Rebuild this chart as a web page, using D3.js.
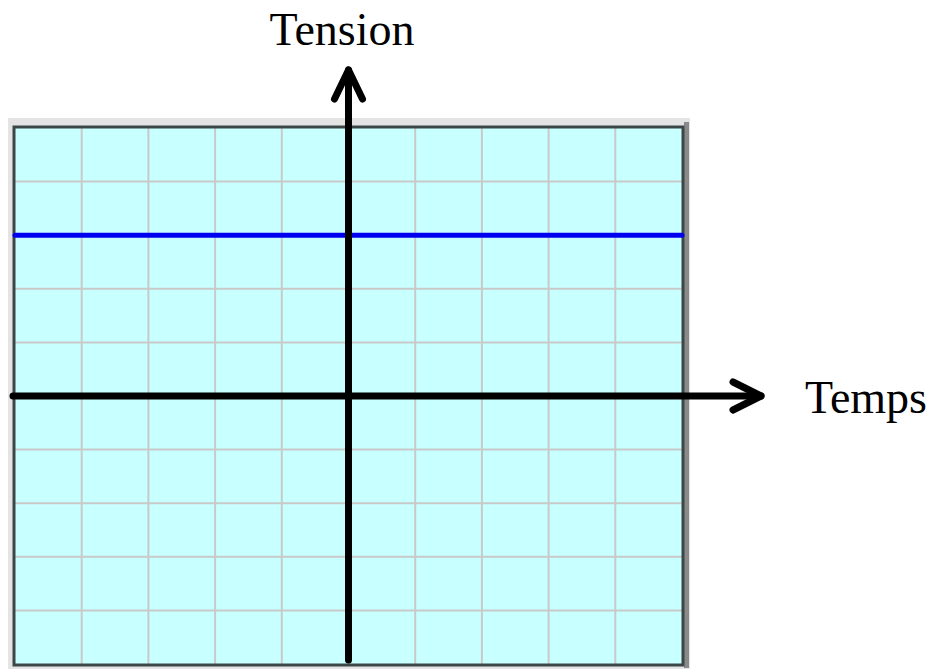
<!DOCTYPE html>
<html>
<head>
<meta charset="utf-8">
<script src="https://cdn.jsdelivr.net/npm/d3@7"></script>
<style>
  html, body { margin: 0; padding: 0; background: #ffffff; }
  svg { display: block; }
</style>
</head>
<body>
<svg width="940" height="669"></svg>
<script>
(function () {
    // Oscilloscope screen: 10 x 10 divisions, centred on 0
    const xDivisions = [-5, -4, -3, -2, -1, 0, 1, 2, 3, 4, 5];
    const yDivisions = [-5, -4, -3, -2, -1, 0, 1, 2, 3, 4, 5];
    // DC signal, in divisions
    const signalTime = [-5, 5];
    const signalVolts = [3, 3];
    const axisLabels = ["Temps", "Tension"];

    const svg = d3.select("svg");

    const screen = { left: 15, right: 682, top: 128, bottom: 664 };

    const x = d3.scaleLinear().domain([-5, 5]).range([screen.left, screen.right]);
    const y = d3.scaleLinear().domain([-5, 5]).range([screen.bottom, screen.top]);

    // Bezel
    svg.append("rect")
        .attr("x", 8).attr("y", 118)
        .attr("width", 682).attr("height", 551)
        .attr("fill", "#e4e4e4");
    svg.append("rect")
        .attr("x", 684).attr("y", 122)
        .attr("width", 5).attr("height", 546)
        .attr("fill", "#8a8a8a");

    // Screen background
    svg.append("rect")
        .attr("x", x(-5)).attr("y", y(5))
        .attr("width", x(5) - x(-5)).attr("height", y(-5) - y(5))
        .attr("fill", "#c8ffff");

    // Grid
    const grid = svg.append("g").attr("stroke", "#c9c9c9").attr("stroke-width", 2);
    grid.selectAll("line.v")
        .data(xDivisions.slice(1, -1))
        .enter().append("line")
        .attr("class", "v")
        .attr("x1", d => x(d)).attr("x2", d => x(d))
        .attr("y1", y(5)).attr("y2", y(-5));
    grid.selectAll("line.h")
        .data(yDivisions.slice(1, -1))
        .enter().append("line")
        .attr("class", "h")
        .attr("y1", d => y(d)).attr("y2", d => y(d))
        .attr("x1", x(-5)).attr("x2", x(5));

    // Dark screen border
    svg.append("rect")
        .attr("x", x(-5) - 1).attr("y", y(5) - 1)
        .attr("width", x(5) - x(-5) + 2).attr("height", y(-5) - y(5) + 2)
        .attr("fill", "none")
        .attr("stroke", "#3c4646")
        .attr("stroke-width", 3);

    // Signal trace
    const line = d3.line()
        .x(d => x(d.t))
        .y(d => y(d.v));
    const signal = signalTime.map((t, i) => ({ t: t, v: signalVolts[i] }));
    svg.append("path")
        .datum(signal)
        .attr("d", line)
        .attr("fill", "none")
        .attr("stroke", "#0000f0")
        .attr("stroke-width", 5)
        .attr("stroke-linecap", "round");

    // Axes with arrows
    const axes = svg.append("g")
        .attr("stroke", "#000")
        .attr("stroke-width", 7)
        .attr("stroke-linecap", "round")
        .attr("stroke-linejoin", "round")
        .attr("fill", "none");

    const x0 = x(0), y0 = y(0);
    const xTip = 761, yTip = 70;

    axes.append("line")
        .attr("x1", x(-5) - 2).attr("y1", y0)
        .attr("x2", xTip).attr("y2", y0);
    axes.append("path")
        .attr("d", `M${xTip - 28},${y0 - 14}L${xTip},${y0}L${xTip - 28},${y0 + 14}`);

    axes.append("line")
        .attr("x1", x0).attr("y1", y(-5) - 4)
        .attr("x2", x0).attr("y2", yTip);
    axes.append("path")
        .attr("d", `M${x0 - 14},${yTip + 29}L${x0},${yTip}L${x0 + 14},${yTip + 29}`);

    // Labels
    svg.append("text")
        .attr("x", 866).attr("y", 413)
        .attr("text-anchor", "middle")
        .style("font-family", "'Liberation Serif', 'Times New Roman', serif")
        .style("font-size", "46px")
        .text(axisLabels[0]);
    svg.append("text")
        .attr("x", 342).attr("y", 45)
        .attr("text-anchor", "middle")
        .style("font-family", "'Liberation Serif', 'Times New Roman', serif")
        .style("font-size", "46px")
        .text(axisLabels[1]);
})();
</script>
</body>
</html>
